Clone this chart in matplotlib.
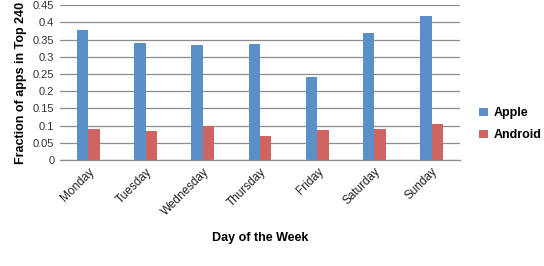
import numpy as np
import matplotlib
matplotlib.use("Agg")
import matplotlib.pyplot as plt

# ------------------------
# Data
# ------------------------

days = ["Monday", "Tuesday", "Wednesday", "Thursday", "Friday", "Saturday", "Sunday"]
apple = [0.377, 0.341, 0.335, 0.338, 0.241, 0.370, 0.419]
android = [0.090, 0.084, 0.099, 0.070, 0.087, 0.090, 0.105]
yticks = [0, 0.05, 0.1, 0.15, 0.2, 0.25, 0.3, 0.35, 0.4, 0.45]
ytick_labels = ["0", "0.05", "0.1", "0.15", "0.2", "0.25", "0.3", "0.35", "0.4", "0.45"]

# ------------------------
# Plot
# ------------------------

plt.rcParams["font.family"] = ["Liberation Sans", "DejaVu Sans"]

fig = plt.figure(figsize=(5.44, 2.66), dpi=100)
ax = fig.add_axes([0.110, 0.398, 0.736, 0.583])

x = np.arange(len(days))
w = 0.2
ax.bar(x - w / 2, apple, width=w, color="#5B8FC7", label="Apple", zorder=3)
ax.bar(x + w / 2, android, width=w, color="#CF6462", label="Android", zorder=3)

ax.set_xlim(-0.5, len(days) - 0.5)
ax.set_ylim(0, 0.45)
ax.set_yticks(yticks)
ax.set_yticklabels(ytick_labels, fontsize=8, color="#333333")
ax.set_xticks(x)
ax.set_xticklabels(days, rotation=45, ha="right", rotation_mode="anchor",
                   fontsize=8.5, color="#222222")
ax.tick_params(axis="both", length=0, pad=4)
ax.yaxis.grid(True, color="#8C8C8C", linewidth=0.9, zorder=0)

for side in ["left", "right", "top"]:
    ax.spines[side].set_visible(False)
ax.spines["bottom"].set_color("#8C8C8C")
ax.spines["bottom"].set_linewidth(0.9)

ax.set_ylabel("Fraction of apps in Top 240", fontsize=9, fontweight="bold", labelpad=4)
ax.set_xlabel("Day of the Week", fontsize=9, fontweight="bold", labelpad=10)

ax.legend(loc="center left", bbox_to_anchor=(1.02, 0.23), frameon=False,
          prop={"size": 9, "weight": "bold"}, handlelength=0.7, handleheight=0.7,
          handletextpad=0.4, labelspacing=0.8)

fig.savefig("out.png", dpi=100)
